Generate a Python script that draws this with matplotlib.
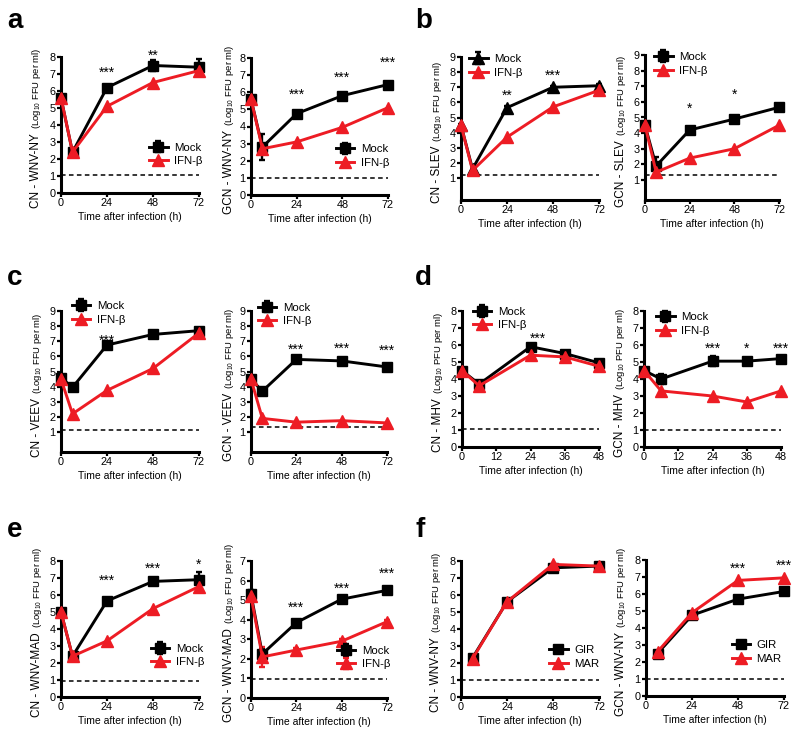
import matplotlib
matplotlib.use("Agg")
import matplotlib.pyplot as plt
import numpy as np

plt.rcParams['font.family'] = ['Liberation Sans', 'DejaVu Sans']
plt.rcParams['mathtext.default'] = 'regular'

RED = '#ed1c24'

# ---------------- data ----------------
t5 = [0, 6, 24, 48, 72]
t_mhv = [0, 6, 24, 36, 48]
t4 = [6, 24, 48, 72]

a1_mock = [5.6, 2.4, 6.2, 7.5, 7.4]
a1_ifn = [5.6, 2.4, 5.1, 6.5, 7.2]
a1_mock_err = [0.15, 0.1, 0.1, 0.35, 0.5]
a2_mock = [5.6, 2.8, 4.75, 5.8, 6.45]
a2_ifn = [5.6, 2.7, 3.1, 3.95, 5.1]
a2_mock_err = [0.15, 0.75, 0.1, 0.1, 0.1]

b1_mock = [4.5, 1.6, 5.65, 7.0, 7.1]
b1_ifn = [4.5, 1.5, 3.7, 5.7, 6.8]
b1_mock_err = [0.1, 0.2, 0.1, 0.1, 0.1]
b2_mock = [4.5, 1.9, 4.2, 4.9, 5.65]
b2_ifn = [4.5, 1.5, 2.4, 3.0, 4.5]
b2_mock_err = [0.1, 0.6, 0.1, 0.1, 0.1]

c1_mock = [4.6, 3.95, 6.75, 7.45, 7.7]
c1_ifn = [4.5, 2.2, 3.75, 5.2, 7.55]
c1_mock_err = [0.1, 0.1, 0.1, 0.1, 0.1]
c2_mock = [4.5, 3.7, 5.8, 5.7, 5.3]
c2_ifn = [4.5, 1.9, 1.65, 1.75, 1.6]
c2_mock_err = [0.1, 0.1, 0.1, 0.1, 0.1]

d1_mock = [4.5, 3.7, 5.9, 5.5, 4.95]
d1_ifn = [4.5, 3.6, 5.4, 5.3, 4.75]
d1_mock_err = [0.1, 0.1, 0.1, 0.1, 0.1]
d2_mock = [4.5, 4.0, 5.05, 5.05, 5.2]
d2_ifn = [4.5, 3.3, 3.0, 2.65, 3.3]
d2_mock_err = [0.1, 0.3, 0.3, 0.1, 0.1]

e1_mock = [5.0, 2.4, 5.65, 6.8, 6.9]
e1_ifn = [5.0, 2.4, 3.3, 5.2, 6.5]
e1_mock_err = [0.1, 0.1, 0.1, 0.1, 0.45]
e2_mock = [5.3, 2.25, 3.85, 5.05, 5.5]
e2_ifn = [5.2, 2.1, 2.45, 2.9, 3.9]
e2_mock_err = [0.2, 0.25, 0.1, 0.1, 0.1]
e2_ifn_err = [0.1, 0.5, 0.1, 0.1, 0.1]

f1_gir = [2.3, 5.6, 7.6, 7.7]
f1_mar = [2.25, 5.6, 7.8, 7.7]
f2_gir = [2.5, 4.75, 5.7, 6.15]
f2_mar = [2.6, 4.9, 6.8, 6.95]

W, H = 800, 737
fig = plt.figure(figsize=(W / 100, H / 100), dpi=100)


def make_ax(x0, x1, ytop_px, ytop_val, ybot_px, ybot_val, yspine_px=None):
    # pixel coordinates to axes rect
    unit = (ybot_px - ytop_px) / (ytop_val - ybot_val)
    if yspine_px is None:
        yspine_px = ybot_px
    ylo = ybot_val - (yspine_px - ybot_px) / unit
    rect = [x0 / W, 1 - yspine_px / H, (x1 - x0) / W, (yspine_px - ytop_px) / H]
    ax = fig.add_axes(rect)
    ax.set_ylim(ylo, ytop_val)
    for s in ['top', 'right']:
        ax.spines[s].set_visible(False)
    for s in ['left', 'bottom']:
        ax.spines[s].set_linewidth(2.2)
    ax.tick_params(direction='out', length=2.6, width=1.6, labelsize=7.8, pad=1.2)
    ax.set_facecolor('none')
    return ax


def ylabel(ax, xpx, main, size_main=8.5, size_par=6.8, par="(Log$_{10}$ FFU per ml)"):
    fig.canvas.draw()
    r = fig.canvas.get_renderer()
    bb = ax.get_position()
    cy = (bb.y0 + bb.y1) / 2 * H
    t1 = fig.text(xpx / W, 0, main, rotation=90, fontsize=size_main, ha='center', va='bottom')
    t2 = fig.text((xpx + 0.5) / W, 0, par, rotation=90, fontsize=size_par, ha='center', va='bottom')
    h1 = t1.get_window_extent(r).height
    h2 = t2.get_window_extent(r).height
    gap = 4
    tot = h1 + gap + h2
    y0 = cy - tot / 2 - 3
    t1.set_y(y0 / H)
    t2.set_y((y0 + h1 + gap) / H)


def plot_series(ax, x, y, color, marker, ms, err=None, label=None):
    ax.errorbar(x, y, yerr=err, color=color, marker=marker, ms=ms, lw=2.1,
                elinewidth=1.7, capsize=2.5, capthick=1.7, clip_on=False,
                label=label, zorder=3)


def style_x(ax, ticks, lim):
    ax.set_xlim(*lim)
    ax.set_xticks(ticks)
    ax.set_xlabel('Time after infection (h)', fontsize=7.5, labelpad=2.5)


def stars(ax, xs, ys, texts):
    for x, y, s in zip(xs, ys, texts):
        ax.text(x, y, s, ha='center', va='center', fontsize=10, clip_on=False)


def legend(ax, x, y, labels=('Mock', 'IFN-β')):
    h, l = ax.get_legend_handles_labels()
    ax.legend(h, labels, loc='upper left', bbox_to_anchor=(x, y), frameon=False,
              fontsize=8.2, handlelength=1.6, handletextpad=0.6, labelspacing=0.3,
              borderpad=0, borderaxespad=0)


def dashed(ax, y, x0, x1):
    ax.plot([x0, x1], [y, y], ls=(0, (3, 2.2)), color='black', lw=1.1, zorder=1)


SQ, TR = 7, 8

# ---------- panel a ----------
ax = make_ax(61, 199, 57, 8, 193, 0)
plot_series(ax, t5, a1_mock, 'black', 's', SQ, a1_mock_err, 'Mock')
plot_series(ax, t5, a1_ifn, RED, '^', TR, None, 'IFN-β')
dashed(ax, 1.05, 0, 72)
style_x(ax, [0, 24, 48, 72], (0, 72))
ax.set_yticks(range(0, 9))
stars(ax, [24, 48], [7.05, 8.05], ['***', '**'])
legend(ax, 0.64, 0.37)
ylabel(ax, 36, 'CN - WNV-NY')

ax = make_ax(251, 388, 58, 8, 195, 0)
plot_series(ax, t5, a2_mock, 'black', 's', SQ, a2_mock_err, 'Mock')
plot_series(ax, t5, a2_ifn, RED, '^', TR, None, 'IFN-β')
dashed(ax, 1.0, 0, 72)
style_x(ax, [0, 24, 48, 72], (0, 72))
ax.set_yticks(range(0, 9))
stars(ax, [24, 48, 72], [5.85, 6.85, 7.75], ['***', '***', '***'])
legend(ax, 0.62, 0.37)
ylabel(ax, 229, 'GCN - WNV-NY')

# ---------- panel b ----------
ax = make_ax(461, 599, 57, 9, 178, 1, 200)
plot_series(ax, t5, b1_mock, 'black', '^', TR, b1_mock_err, 'Mock')
plot_series(ax, t5, b1_ifn, RED, '^', TR, None, 'IFN-β')
dashed(ax, 1.2, 0, 72)
style_x(ax, [0, 24, 48, 72], (0, 72))
ax.set_yticks(range(1, 10))
stars(ax, [24, 48], [6.45, 7.75], ['**', '***'])
legend(ax, 0.06, 1.02)
ylabel(ax, 437, 'CN - SLEV')

ax = make_ax(645, 779, 55, 9, 180, 1, 200)
plot_series(ax, t5, b2_mock, 'black', 's', SQ, b2_mock_err, 'Mock')
plot_series(ax, t5, b2_ifn, RED, '^', TR, None, 'IFN-β')
dashed(ax, 1.3, 0, 72)
style_x(ax, [0, 24, 48, 72], (0, 72))
ax.set_yticks(range(1, 10))
stars(ax, [24, 48], [5.55, 6.45], ['*', '*'])
legend(ax, 0.07, 1.02)
ylabel(ax, 621, 'GCN - SLEV')

# ---------- panel c ----------
ax = make_ax(61, 199, 311, 9, 432, 1, 452)
plot_series(ax, t5, c1_mock, 'black', 's', SQ, c1_mock_err, 'Mock')
plot_series(ax, t5, c1_ifn, RED, '^', TR, None, 'IFN-β')
dashed(ax, 1.1, 0, 72)
style_x(ax, [0, 24, 48, 72], (0, 72))
ax.set_yticks(range(1, 10))
stars(ax, [24], [7.05], ['***'])
legend(ax, 0.08, 1.07)
ylabel(ax, 37, 'CN - VEEV')

ax = make_ax(251, 387, 311, 9, 432, 1, 452)
plot_series(ax, t5, c2_mock, 'black', 's', SQ, c2_mock_err, 'Mock')
plot_series(ax, t5, c2_ifn, RED, '^', TR, None, 'IFN-β')
dashed(ax, 1.3, 0, 72)
style_x(ax, [0, 24, 48, 72], (0, 72))
ax.set_yticks(range(1, 10))
stars(ax, [24, 48, 72], [6.45, 6.5, 6.35], ['***', '***', '***'])
legend(ax, 0.05, 1.06)
ylabel(ax, 229, 'GCN - VEEV')

# ---------- panel d ----------
ax = make_ax(462, 599, 311, 8, 447, 0)
plot_series(ax, t_mhv, d1_mock, 'black', 's', SQ, d1_mock_err, 'Mock')
plot_series(ax, t_mhv, d1_ifn, RED, '^', TR, None, 'IFN-β')
dashed(ax, 1.05, 0, 48)
style_x(ax, [0, 12, 24, 36, 48], (0, 48))
ax.set_yticks(range(0, 9))
stars(ax, [26.5, ], [6.35], ['***'])
legend(ax, 0.08, 1.03)
ylabel(ax, 438, 'CN - MHV', par="(Log$_{10}$ PFU per ml)")

ax = make_ax(644, 781, 311, 8, 447, 0)
plot_series(ax, t_mhv, d2_mock, 'black', 's', SQ, d2_mock_err, 'Mock')
plot_series(ax, t_mhv, d2_ifn, RED, '^', TR, None, 'IFN-β')
dashed(ax, 1.0, 0, 48)
style_x(ax, [0, 12, 24, 36, 48], (0, 48))
ax.set_yticks(range(0, 9))
stars(ax, [24, 36, 48], [5.75, 5.75, 5.8], ['***', '*', '***'])
legend(ax, 0.09, 0.99)
ylabel(ax, 620, 'GCN - MHV', par="(Log$_{10}$ PFU per ml)")

# ---------- panel e ----------
ax = make_ax(61, 199, 561, 8, 697, 0)
plot_series(ax, t5, e1_mock, 'black', 's', SQ, e1_mock_err, 'Mock')
plot_series(ax, t5, e1_ifn, RED, '^', TR, None, 'IFN-β')
dashed(ax, 0.95, 0, 72)
style_x(ax, [0, 24, 48, 72], (0, 72))
ax.set_yticks(range(0, 9))
stars(ax, [24, 48, 72], [6.85, 7.55, 7.8], ['***', '***', '*'])
legend(ax, 0.65, 0.39)
ylabel(ax, 37, 'CN - WNV-MAD')

ax = make_ax(251, 387, 561, 7, 698, 0)
plot_series(ax, t5, e2_mock, 'black', 's', SQ, e2_mock_err, 'Mock')
plot_series(ax, t5, e2_ifn, RED, '^', TR, e2_ifn_err, 'IFN-β')
dashed(ax, 0.95, 0, 72)
style_x(ax, [0, 24, 48, 72], (0, 72))
ax.set_yticks(range(0, 8))
stars(ax, [24, 48, 72], [4.6, 5.6, 6.35], ['***', '***', '***'])
legend(ax, 0.63, 0.38)
ylabel(ax, 229, 'GCN - WNV-MAD')

# ---------- panel f ----------
ax = make_ax(461, 599, 561, 8, 697, 0)
plot_series(ax, t4, f1_gir, 'black', 's', SQ + 0.5, None, 'GIR')
plot_series(ax, t4, f1_mar, RED, '^', TR + 0.5, None, 'MAR')
dashed(ax, 1.0, 0, 72)
style_x(ax, [0, 24, 48, 72], (0, 72))
ax.set_yticks(range(0, 9))
legend(ax, 0.64, 0.38, labels=('GIR', 'MAR'))
ylabel(ax, 436, 'CN - WNV-NY')

ax = make_ax(646, 784, 560, 8, 696, 0)
plot_series(ax, t4, f2_gir, 'black', 's', SQ + 0.5, None, 'GIR')
plot_series(ax, t4, f2_mar, RED, '^', TR + 0.5, None, 'MAR')
dashed(ax, 1.0, 0, 72)
style_x(ax, [0, 24, 48, 72], (0, 72))
ax.set_yticks(range(0, 9))
stars(ax, [48, 72], [7.5, 7.65], ['***', '***'])
legend(ax, 0.62, 0.41, labels=('GIR', 'MAR'))
ylabel(ax, 621, 'GCN - WNV-NY')

# ---------- panel letters ----------
for letter, xp, yp in [('a', 7, 28), ('b', 415, 28), ('c', 7, 285), ('d', 415, 285),
                       ('e', 7, 537), ('f', 415, 537)]:
    fig.text(xp / W, 1 - yp / H, letter, fontsize=20, fontweight='bold', va='baseline', ha='left')

fig.savefig('out.png', dpi=100)
